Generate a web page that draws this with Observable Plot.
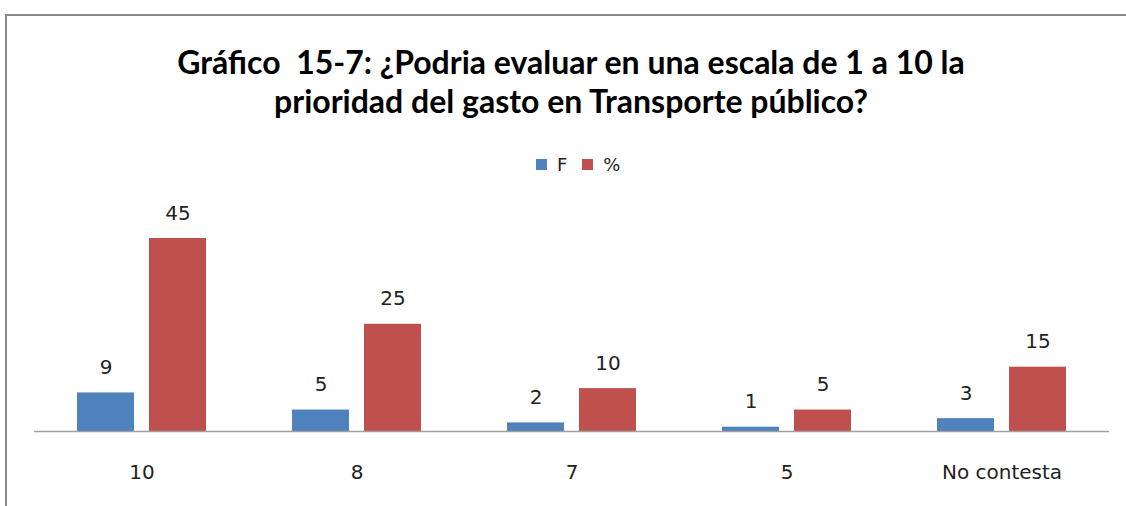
<!DOCTYPE html>
<html><head><meta charset="utf-8">
<script src="https://cdn.jsdelivr.net/npm/d3@7"></script>
<script src="https://cdn.jsdelivr.net/npm/@observablehq/plot@0.6"></script>
<style>
body{margin:0;background:#fff;overflow:hidden}
#wrap{position:relative;width:1126px;height:506px;overflow:hidden;font-family:"DejaVu Sans",sans-serif;background:#fff}
#frame{position:absolute;left:5px;top:14px;width:1200px;height:600px;border-left:2px solid #8a8a8a;border-top:2px solid #8a8a8a}
#title{position:absolute;left:8px;width:1126px;top:42px;text-align:center;font-family:Lato,"Open Sans",sans-serif;font-weight:bold;line-height:39px;color:#000}
#legend{position:absolute;top:155px;left:536px;display:flex;align-items:center;font-size:18px;color:#222;height:18px}
#legend .sw{width:11px;height:11px;display:inline-block}
#chart{position:absolute;top:180px;left:0}
</style></head>
<body>
<div id="wrap">
  <div id="frame"></div>
  <div id="title"></div>
  <div id="legend"></div>
  <div id="chart"></div>
</div>
<script>
const titleLines = ["Gráfico  15-7: ¿Podria evaluar en una escala de 1 a 10 la", "prioridad del gasto en Transporte público?"];
const categories = ["10", "8", "7", "5", "No contesta"];
const seriesNames = ["F", "%"];
const seriesColors = ["#4F81BD", "#C0504D"];
const valuesF = [9, 5, 2, 1, 3];
const valuesPct = [45, 25, 10, 5, 15];

const data = [];
categories.forEach((c, i) => {
  data.push({cat: c, series: "F", value: valuesF[i]});
  data.push({cat: c, series: "%", value: valuesPct[i]});
});

// title
const t = document.getElementById("title");
const cv = document.createElement("canvas").getContext("2d");
cv.font = "bold 100px Lato";
const w = cv.measureText(titleLines[0]).width;
const fs = Math.min(32, 100 * 816 / w);
t.style.fontSize = fs + "px";
t.innerHTML = titleLines.map(s => s.replace(/  /g, " &nbsp;")).join("<br>");

// legend
const lg = document.getElementById("legend");
seriesNames.forEach((s, i) => {
  const sw = document.createElement("span");
  sw.className = "sw";
  sw.style.background = seriesColors[i];
  sw.style.marginRight = "10px";
  lg.appendChild(sw);
  const tx = document.createElement("span");
  tx.textContent = s;
  tx.style.marginRight = i === 0 ? "15px" : "0";
  lg.appendChild(tx);
});

const chart = Plot.plot({
  width: 1126,
  height: 326,
  marginTop: 58,
  marginBottom: 75,
  marginLeft: 34,
  marginRight: 17,
  style: {fontFamily: "DejaVu Sans", fontSize: "20px", color: "#222", background: "transparent"},
  fx: {domain: categories, paddingInner: 0, paddingOuter: 0, label: null},
  x: {domain: seriesNames, paddingInner: 0.208, paddingOuter: 0.597, axis: null},
  y: {domain: [0, 45], axis: null},
  color: {domain: seriesNames, range: seriesColors},
  marks: [
    Plot.barY(data, {fx: "cat", x: "series", y: "value", fill: "series"}),
    Plot.ruleY([0], {stroke: "#a0a0a0", strokeWidth: 1.5}),
    Plot.text(data, {fx: "cat", x: "series", y: "value", text: d => String(d.value), dy: -19, lineAnchor: "bottom", fill: "#222", fontSize: 20}),
    Plot.axisFx({anchor: "bottom", tickSize: 0, tickPadding: 33, label: null, fontSize: 20, fill: "#222"})
  ]
});
document.getElementById("chart").appendChild(chart);
</script>
</body></html>
